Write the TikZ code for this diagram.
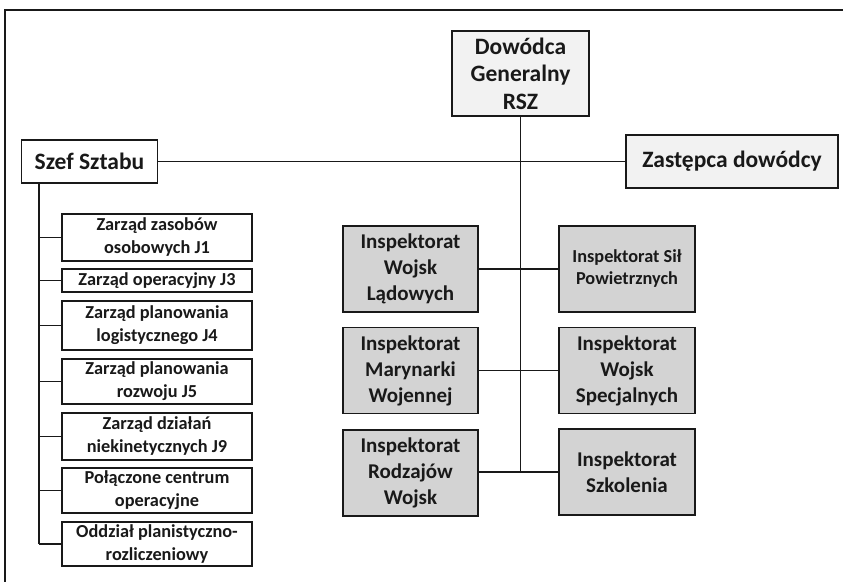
\documentclass[tikz,border=0pt]{standalone}
\usepackage{fontspec}
\setmainfont{Carlito}
\definecolor{lightfill}{RGB}{242,242,242}
\definecolor{inspfill}{RGB}{211,211,211}
\definecolor{ink}{RGB}{25,25,25}
\begin{document}
\begin{tikzpicture}[x=1pt,y=-1pt,
  box/.style={draw=ink,line width=1.8pt,rectangle,inner sep=0pt,align=center,
    text=ink,font=\bfseries},
  bigbox/.style={box,font=\fontsize{23.5}{27.5}\selectfont\bfseries},
  unitbox/.style={box,minimum width=190pt,font=\fontsize{18.3}{23}\selectfont\bfseries},
  inspbox/.style={box,fill=inspfill,minimum height=86pt,
    font=\fontsize{21}{26}\selectfont\bfseries},
  link/.style={draw=ink,line width=1.5pt}]
\useasboundingbox (0,0) rectangle (843,582);
\fill[white] (0,0) rectangle (843,582);
% outer frame
\draw[ink,line width=1.8pt] (843,10) -- (5,10) -- (5,582);

% top level
\node[bigbox,fill=lightfill,minimum width=137pt,minimum height=85pt] (dow) at (520.5,73.5)
  {Dowódca\\Generalny\\RSZ};
\node[bigbox,fill=white,minimum width=136pt,minimum height=43pt] (szef) at (89.5,161.5)
  {Szef Sztabu};
\node[bigbox,fill=lightfill,minimum width=212pt,minimum height=53pt] (zast) at (732,161.5)
  {Zastępca dowódcy};

% staff units
\node[unitbox,minimum height=47pt] (u1) at (157,237.5) {Zarząd zasobów\\osobowych J1};
\node[unitbox,minimum height=23pt] (u2) at (157,280.5) {Zarząd operacyjny J3};
\node[unitbox,minimum height=49pt] (u3) at (157,325.5) {Zarząd planowania\\logistycznego J4};
\node[unitbox,minimum height=45pt] (u4) at (157,381.5) {Zarząd planowania\\rozwoju J5};
\node[unitbox,minimum height=47pt] (u5) at (157,436.5) {Zarząd działań\\niekinetycznych J9};
\node[unitbox,minimum height=45pt] (u6) at (157,490.5) {Połączone centrum\\operacyjne};
\node[unitbox,minimum height=44pt] (u7) at (157,544) {Oddział planistyczno-\\rozliczeniowy};

% inspectorates
\node[inspbox,minimum width=135pt] (l1) at (410.5,269) {Inspektorat\\Wojsk\\Lądowych};
\node[inspbox,minimum width=135pt] (l2) at (410.5,370.5) {Inspektorat\\Marynarki\\Wojennej};
\node[inspbox,minimum width=135pt] (l3) at (410.5,473) {Inspektorat\\Rodzajów\\Wojsk};
\node[inspbox,minimum width=136pt,font=\fontsize{18.3}{22}\selectfont\bfseries] (r1) at (627,269)
  {Inspektorat Sił\\Powietrznych};
\node[inspbox,minimum width=136pt] (r2) at (627,370.5) {Inspektorat\\Wojsk\\Specjalnych};
\node[inspbox,minimum width=136pt] (r3) at (627,472) {Inspektorat\\Szkolenia};

% connectors
\coordinate (spine) at (39,0);
\draw[link] (szef.east) -- (zast.west);
\draw[link] (dow.south) -- (dow.south |- r3.west);
\draw[link] (spine |- szef.south) -- (spine |- u7.west);
\foreach \u in {u1,u2,u3,u4,u5,u6,u7}
  \draw[link] (spine |- \u.west) -- (\u.west);
\draw[link] (l1.east) -- (r1.west);
\draw[link] (l2.east) -- (r2.west);
\draw[link] (l3.east |- r3.west) -- (r3.west);
\end{tikzpicture}
\end{document}
